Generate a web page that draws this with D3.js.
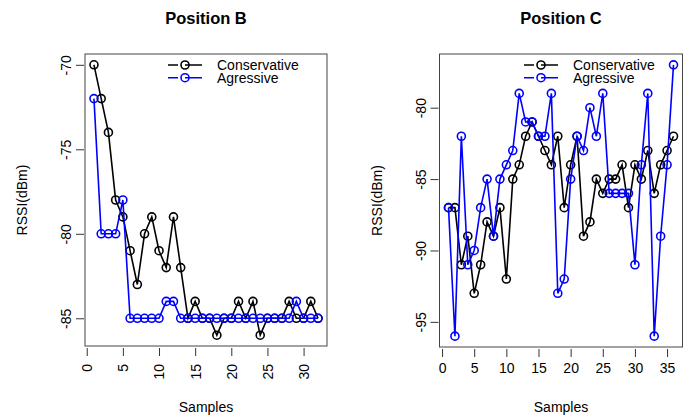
<!DOCTYPE html>
<html>
<head>
<meta charset="utf-8">
<script src="https://cdn.jsdelivr.net/npm/d3@7"></script>
<style>
  body { margin: 0; background: #fff; }
  svg { font-family: "Liberation Sans", Arial, sans-serif; }
  .title { font-weight: bold; font-size: 16.5px; }
  .lbl { font-size: 14px; }
</style>
</head>
<body>
<div id="chart"></div>
<script>
// RSSI readings per sample
var legendNames = ["Conservative", "Agressive"];
var seriesColors = ["#000000", "#0000ff"];

var posB_conservative = [-70, -72, -74, -78, -79, -81, -83, -80, -79, -81, -82, -79, -82, -85, -84, -85,
                         -85, -86, -85, -85, -84, -85, -84, -86, -85, -85, -85, -84, -85, -85, -84, -85];
var posB_agressive    = [-72, -80, -80, -80, -78, -85, -85, -85, -85, -85, -84, -84, -85, -85, -85, -85,
                         -85, -85, -85, -85, -85, -85, -85, -85, -85, -85, -85, -85, -84, -85, -85, -85];

var posC_conservative = [-87, -87, -91, -89, -93, -91, -88, -89, -87, -92, -85, -84, -82, -81, -82, -83, -84, -82,
                         -87, -84, -82, -89, -88, -85, -86, -85, -85, -84, -87, -84, -85, -83, -86, -84, -83, -82];
var posC_agressive    = [-87, -96, -82, -91, -90, -87, -85, -89, -85, -84, -83, -79, -81, -81, -82, -82, -79, -93,
                         -92, -85, -82, -83, -80, -82, -79, -86, -86, -86, -86, -91, -84, -79, -96, -89, -84, -77];

var posB_xTicks = [0, 5, 10, 15, 20, 25, 30];
var posB_yTicks = [-70, -75, -80, -85];
var posC_xTicks = [0, 5, 10, 15, 20, 25, 30, 35];
var posC_yTicks = [-80, -85, -90, -95];

var svg = d3.select("#chart").append("svg")
    .attr("width", 691)
    .attr("height", 417);

// R style: extend the data range by 4% each side
function rDomain(vals) {
  var ext = d3.extent(vals), pad = (ext[1] - ext[0]) * 0.04;
  return [ext[0] - pad, ext[1] + pad];
}

function drawPanel(opt) {
  var n = opt.series[0].length;
  var xs = d3.range(1, n + 1);
  var allY = opt.series[0].concat(opt.series[1]);

  var x = d3.scaleLinear().domain(rDomain(xs)).range([opt.left, opt.right]);
  var y = d3.scaleLinear().domain(rDomain(allY)).range([opt.bottom, opt.top]);

  var g = svg.append("g");

  g.append("text").attr("class", "title")
    .attr("x", (opt.left + opt.right) / 2).attr("y", 24)
    .attr("text-anchor", "middle").text(opt.title);

  g.append("rect")
    .attr("x", opt.left).attr("y", opt.top)
    .attr("width", opt.right - opt.left).attr("height", opt.bottom - opt.top)
    .attr("fill", "none").attr("stroke", "#444").attr("stroke-width", 1);

  // x axis
  var xa = g.append("g").attr("transform", "translate(0," + (opt.bottom + 2) + ")")
    .call(d3.axisBottom(x).tickValues(opt.xTicks).tickSize(8).tickSizeOuter(0).tickPadding(6)
      .tickFormat(function(d) { return String(d); }));
  xa.select(".domain").remove();
  xa.selectAll("line").attr("stroke", "#333");
  xa.selectAll("text").attr("fill", "#000").style("font-size", "14px");
  if (opt.rotX) {
    xa.selectAll("text")
      .attr("transform", "rotate(-90)")
      .attr("x", -16).attr("y", 0).attr("dy", "0.35em")
      .attr("text-anchor", "end");
  }

  // y axis, labels parallel to the axis
  var ya = g.append("g").attr("transform", "translate(" + (opt.left - 1) + ",0)")
    .call(d3.axisLeft(y).tickValues(opt.yTicks).tickSize(8).tickSizeOuter(0)
      .tickFormat(function(d) { return String(d); }));
  ya.select(".domain").remove();
  ya.selectAll("line").attr("stroke", "#333");
  ya.selectAll("text")
    .style("font-size", "14px").attr("fill", "#000")
    .attr("transform", "rotate(-90)")
    .attr("x", 0).attr("y", -13).attr("dy", 0)
    .attr("text-anchor", "middle");

  g.append("text").attr("class", "lbl")
    .attr("transform", "translate(" + (opt.left - 58) + "," + ((opt.top + opt.bottom) / 2) + ") rotate(-90)")
    .attr("text-anchor", "middle").text("RSSI(dBm)");

  g.append("text").attr("class", "lbl")
    .attr("x", (opt.left + opt.right) / 2).attr("y", 412)
    .attr("text-anchor", "middle").text("Samples");

  var line = d3.line().x(function(d, i) { return x(i + 1); }).y(function(d) { return y(d); });

  opt.series.forEach(function(s, k) {
    g.append("path").datum(s)
      .attr("d", line).attr("fill", "none")
      .attr("stroke", seriesColors[k]).attr("stroke-width", 1.6);
    g.selectAll(".pt" + k).data(s).enter().append("circle")
      .attr("cx", function(d, i) { return x(i + 1); })
      .attr("cy", function(d) { return y(d); })
      .attr("r", 4).attr("fill", "none")
      .attr("stroke", seriesColors[k]).attr("stroke-width", 1.6);
  });

  // legend, no box
  legendNames.forEach(function(name, k) {
    var ly = 65 + k * 12.7;
    g.append("line")
      .attr("x1", opt.legX).attr("x2", opt.legX + 34)
      .attr("y1", ly).attr("y2", ly)
      .attr("stroke", seriesColors[k]).attr("stroke-width", 1.6)
      .attr("stroke-dasharray", "10,7,17");
    g.append("circle").attr("cx", opt.legX + 17).attr("cy", ly).attr("r", 4)
      .attr("fill", "none").attr("stroke", seriesColors[k]).attr("stroke-width", 1.6);
    g.append("text").attr("class", "lbl")
      .attr("x", opt.legX + 49).attr("y", ly + 5).text(name);
  });
}

drawPanel({
  title: "Position B", series: [posB_conservative, posB_agressive],
  xTicks: posB_xTicks, yTicks: posB_yTicks,
  left: 85, right: 327, top: 54, bottom: 346, rotX: true, legX: 168
});

drawPanel({
  title: "Position C", series: [posC_conservative, posC_agressive],
  xTicks: posC_xTicks, yTicks: posC_yTicks,
  left: 439.5, right: 682.5, top: 54, bottom: 347, rotX: false, legX: 524
});
</script>
</body>
</html>
